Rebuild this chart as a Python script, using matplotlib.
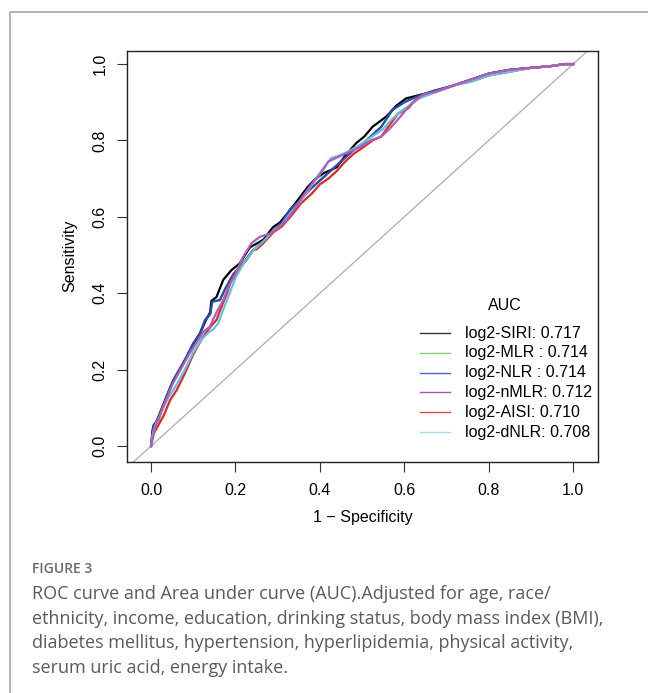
import matplotlib
matplotlib.use('Agg')
import matplotlib.pyplot as plt
from matplotlib.lines import Line2D

plt.rcParams['font.family'] = ['Liberation Sans', 'DejaVu Sans']

# ROC curves (1 - specificity, sensitivity)
siri_fpr = [0, 0.004, 0.015, 0.035, 0.052, 0.075, 0.1, 0.116, 0.13, 0.14,
            0.143, 0.155, 0.171, 0.19, 0.21, 0.234, 0.266, 0.289, 0.305, 0.324,
            0.345, 0.371, 0.39, 0.41, 0.425, 0.44, 0.46, 0.486, 0.505, 0.525,
            0.541, 0.56, 0.58, 0.604, 0.636, 0.678, 0.72, 0.76, 0.8, 0.85,
            0.9, 0.95, 0.98, 1.0]
siri_tpr = [0, 0.045, 0.07, 0.125, 0.17, 0.215, 0.265, 0.295, 0.33, 0.35,
            0.38, 0.39, 0.435, 0.46, 0.478, 0.52, 0.54, 0.573, 0.585, 0.61,
            0.64, 0.678, 0.70, 0.715, 0.722, 0.73, 0.76, 0.793, 0.81, 0.836,
            0.849, 0.865, 0.89, 0.91, 0.919, 0.93, 0.945, 0.96, 0.975, 0.985,
            0.99, 0.995, 1.0, 1.0]

nlr_fpr = [0, 0.003, 0.006, 0.017, 0.037, 0.053, 0.076, 0.1, 0.116, 0.128,
           0.14, 0.145, 0.163, 0.175, 0.195, 0.215, 0.24, 0.265, 0.29, 0.31,
           0.33, 0.35, 0.375, 0.4, 0.42, 0.44, 0.46, 0.48, 0.5, 0.52,
           0.545, 0.572, 0.6, 0.63, 0.67, 0.72, 0.76, 0.8, 0.85, 0.9,
           0.95, 0.98, 1.0]
nlr_tpr = [0, 0.03, 0.055, 0.068, 0.13, 0.173, 0.216, 0.269, 0.295, 0.33,
           0.345, 0.378, 0.382, 0.41, 0.45, 0.475, 0.51, 0.535, 0.565, 0.585,
           0.62, 0.64, 0.67, 0.695, 0.715, 0.735, 0.755, 0.775, 0.79, 0.81,
           0.835, 0.88, 0.9, 0.915, 0.93, 0.945, 0.96, 0.975, 0.985, 0.99,
           0.995, 1.0, 1.0]

# MLR curve sits under the NLR one
mlr_fpr = nlr_fpr
mlr_tpr = nlr_tpr

aisi_fpr = [0, 0.005, 0.015, 0.03, 0.045, 0.061, 0.08, 0.1, 0.12, 0.139,
            0.155, 0.167, 0.18, 0.19, 0.205, 0.225, 0.242, 0.25, 0.265, 0.29,
            0.31, 0.33, 0.355, 0.38, 0.40, 0.42, 0.44, 0.46, 0.48, 0.5,
            0.525, 0.545, 0.565, 0.585, 0.61, 0.63, 0.67, 0.72, 0.76, 0.8,
            0.85, 0.9, 0.95, 0.98, 1.0]
aisi_tpr = [0, 0.03, 0.05, 0.08, 0.12, 0.147, 0.19, 0.24, 0.28, 0.31,
            0.33, 0.365, 0.40, 0.435, 0.46, 0.485, 0.513, 0.515, 0.53, 0.56,
            0.575, 0.60, 0.635, 0.66, 0.685, 0.70, 0.72, 0.745, 0.765, 0.78,
            0.80, 0.81, 0.84, 0.87, 0.885, 0.91, 0.925, 0.945, 0.955, 0.97,
            0.98, 0.99, 0.995, 1.0, 1.0]

dnlr_fpr = [0, 0.005, 0.012, 0.025, 0.04, 0.06, 0.08, 0.1, 0.12, 0.139,
            0.147, 0.159, 0.172, 0.183, 0.2, 0.22, 0.245, 0.27, 0.29, 0.31,
            0.33, 0.35, 0.37, 0.39, 0.41, 0.427, 0.445, 0.465, 0.49, 0.51,
            0.53, 0.55, 0.57, 0.59, 0.61, 0.635, 0.67, 0.72, 0.76, 0.8,
            0.85, 0.9, 0.95, 0.98, 1.0]
dnlr_tpr = [0, 0.035, 0.06, 0.09, 0.125, 0.16, 0.2, 0.245, 0.28, 0.30,
            0.305, 0.321, 0.36, 0.391, 0.44, 0.48, 0.515, 0.54, 0.565, 0.58,
            0.61, 0.635, 0.665, 0.70, 0.73, 0.754, 0.76, 0.77, 0.785, 0.80,
            0.815, 0.83, 0.855, 0.875, 0.89, 0.91, 0.925, 0.945, 0.955, 0.97,
            0.98, 0.99, 0.995, 1.0, 1.0]

nmlr_fpr = [0, 0.004, 0.01, 0.02, 0.035, 0.05, 0.07, 0.09, 0.11, 0.125,
            0.139, 0.155, 0.171, 0.185, 0.2, 0.218, 0.238, 0.258, 0.28, 0.3,
            0.32, 0.34, 0.36, 0.38, 0.4, 0.42, 0.44, 0.46, 0.48, 0.5,
            0.52, 0.545, 0.565, 0.585, 0.604, 0.62, 0.645, 0.68, 0.72, 0.76,
            0.8, 0.85, 0.9, 0.95, 0.98, 1.0]
nmlr_tpr = [0, 0.02, 0.05, 0.08, 0.12, 0.16, 0.2, 0.24, 0.275, 0.3,
            0.312, 0.35, 0.382, 0.42, 0.45, 0.495, 0.531, 0.548, 0.555, 0.57,
            0.59, 0.62, 0.655, 0.685, 0.71, 0.745, 0.755, 0.765, 0.775, 0.785,
            0.80, 0.81, 0.83, 0.855, 0.88, 0.90, 0.92, 0.93, 0.945, 0.96,
            0.975, 0.985, 0.99, 0.995, 1.0, 1.0]

legend_labels = ['log2-SIRI: 0.717', 'log2-MLR : 0.714', 'log2-NLR : 0.714',
                 'log2-nMLR: 0.712', 'log2-AISI: 0.710', 'log2-dNLR: 0.708']
legend_colors = ['#333333', '#7ccf6c', '#4a66c8', '#a655ad', '#e04848', '#a9dbe6']

caption_title = 'FIGURE 3'
caption_lines = [
    'ROC curve and Area under curve (AUC).Adjusted for age, race/',
    'ethnicity, income, education, drinking status, body mass index (BMI),',
    'diabetes mellitus, hypertension, hyperlipidemia, physical activity,',
    'serum uric acid, energy intake.',
]

W, H = 648, 693
fig = plt.figure(figsize=(W / 100, H / 100), dpi=100)
ax = fig.add_axes([127 / W, 1 - 461.7 / H, 471 / W, 411 / H])

ax.axline((0, 0), slope=1, color='#b3b3b3', lw=1, zorder=1)

# curves (drawn in this order so purple ends on top)
ax.plot(mlr_fpr, mlr_tpr, color='#55b04a', lw=1.6)
ax.plot(siri_fpr, siri_tpr, color='#000000', lw=1.6)
ax.plot(nlr_fpr, nlr_tpr, color='#2a4db3', lw=1.6)
ax.plot(aisi_fpr, aisi_tpr, color='#e52521', lw=1.6)
ax.plot(dnlr_fpr, dnlr_tpr, color='#5cc4dc', lw=1.6)
ax.plot(nmlr_fpr, nmlr_tpr, color='#b25cba', lw=1.6)

ax.set_xlim(-0.057, 1.059)
ax.set_ylim(-0.041, 1.035)
ticks = [0.0, 0.2, 0.4, 0.6, 0.8, 1.0]
ax.set_xticks(ticks)
ax.set_yticks(ticks)
ax.set_xticklabels(['%.1f' % t for t in ticks])
ax.set_yticklabels(['%.1f' % t for t in ticks], rotation=90, va='center')
ax.tick_params(length=7.2, width=0.8, labelsize=11.5, color='#333333')
ax.tick_params(axis='x', pad=8)
ax.tick_params(axis='y', pad=7)
for s in ax.spines.values():
    s.set_linewidth(1.0)
    s.set_color('#222222')
ax.set_xlabel('1 \u2212 Specificity', fontsize=11.5, labelpad=9)
ax.set_ylabel('Sensitivity', fontsize=11.5, labelpad=11)

# legend, R style, no frame
ax.text(0.803, 0.379, 'AUC', transform=ax.transAxes, fontsize=11.5,
        ha='center', va='center')
for i, (lab, col) in enumerate(zip(legend_labels, legend_colors)):
    yy = 0.313 - i * 0.0482
    ax.plot([0.622, 0.686], [yy, yy], transform=ax.transAxes, color=col, lw=1)
    ax.text(0.718, yy, lab, transform=ax.transAxes, fontsize=11.5,
            ha='left', va='center')

# outer frame of the figure panel
fig.add_artist(Line2D([10 / W, 10 / W, 1], [0, 1 - 12 / H, 1 - 12 / H],
                      transform=fig.transFigure, color='#a6a6a6', lw=1.2))

fig.text(32 / W, 1 - 569 / H, caption_title, fontsize=10, color='#6a6a6a',
         family='Open Sans', fontweight='semibold', ha='left', va='center')
for i, line in enumerate(caption_lines):
    fig.text(32 / W, 1 - (594 + i * 24.7) / H, line, fontsize=13,
             color='#5a5a5a', family='Open Sans', ha='left', va='center')

fig.savefig('out.png', dpi=100)
